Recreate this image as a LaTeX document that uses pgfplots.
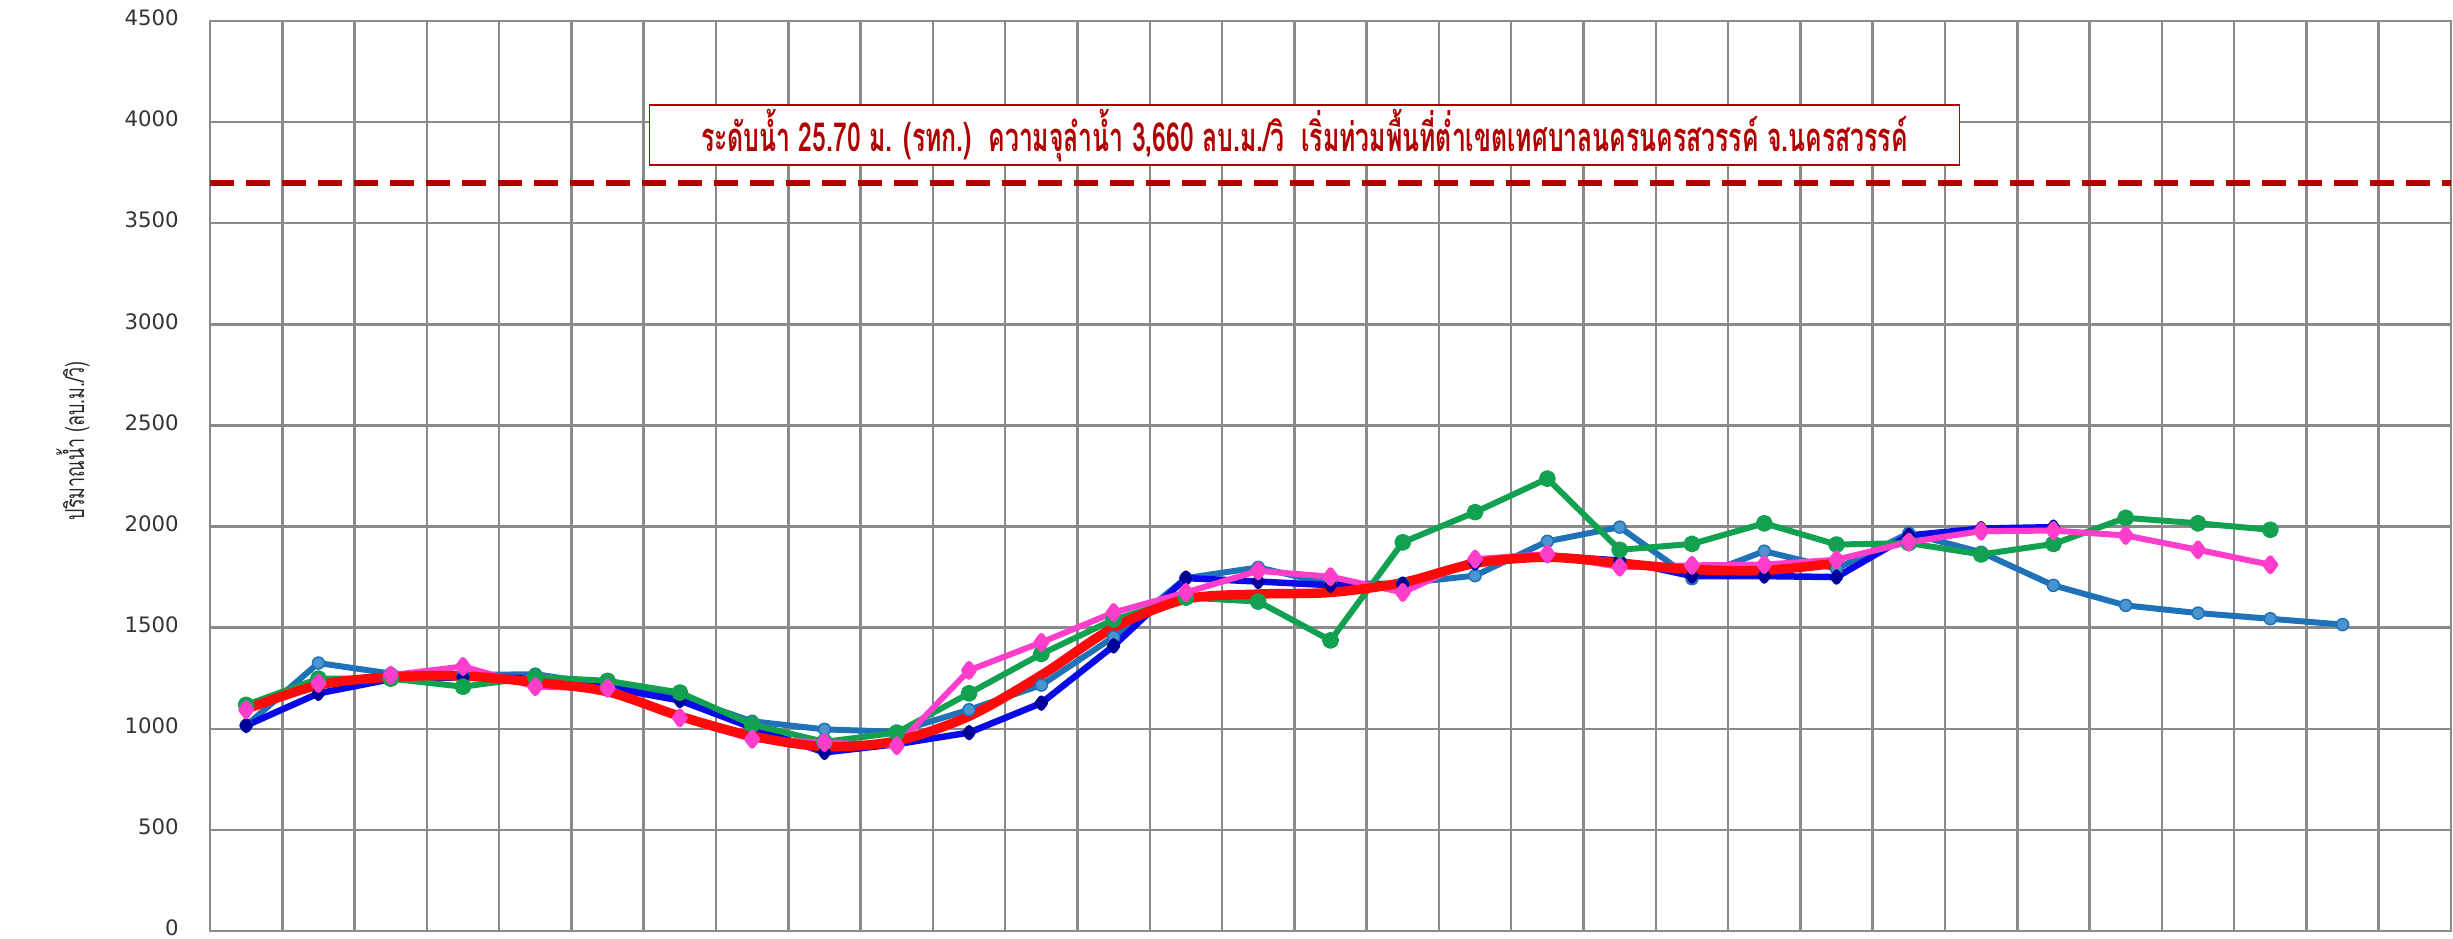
\documentclass[border=0pt]{standalone}
\usepackage{pgfplots}
\pgfplotsset{compat=1.18}
\usepackage{fontspec}
\setmainfont{DejaVu Sans}
\newfontfamily\thaifont[Script=Thai]{Loma}
\definecolor{steel}{HTML}{1F72B8}
\definecolor{steelfill}{HTML}{4A94CF}
\definecolor{dblue}{HTML}{0A0AE6}
\definecolor{mgreen}{HTML}{12A150}
\definecolor{mpink}{HTML}{FF3FCB}
\definecolor{mred}{HTML}{FF0A0A}
\definecolor{gridgray}{HTML}{8A8A8A}
\definecolor{dred}{HTML}{B00000}
\begin{document}
\begin{tikzpicture}
\begin{axis}[
  name=ax,
  scale only axis,
  width=896.4pt, height=364pt,
  xmin=-0.5, xmax=30.5, ymin=0, ymax=4500,
  xtick={-0.5,0.5,...,30.5}, xticklabels={},
  ytick={0,500,...,4500},
  major tick length=0pt,
  grid=major,
  grid style={gridgray, line width=1pt},
  axis line style={gridgray, line width=1pt},
  /pgf/number format/assume math mode=true,
  /pgf/number format/set thousands separator={},
  yticklabel style={font=\fontsize{8.5}{10}\selectfont, text=black!80, xshift=-9pt, yshift=1.2pt},
  clip=false,
]
\addplot[dred, line width=2.6pt, dash pattern=on 9.6pt off 4.8pt] coordinates {(-0.5,3700) (30.5,3700)};
% steel blue
\addplot[steel, line width=2.4pt, line join=round, mark=*, mark size=2.4pt, mark options={fill=steelfill, draw=steel, line width=0.6pt}] coordinates {
(0,1016) (1,1325) (2,1273) (3,1265) (4,1270) (5,1216) (6,1159) (7,1037) (8,997) (9,985)
(10,1094) (11,1216) (12,1454) (13,1745) (14,1798) (15,1715) (16,1719) (17,1757) (18,1927) (19,1997)
(20,1742) (21,1878) (22,1791) (23,1967) (24,1873) (25,1709) (26,1610) (27,1572) (28,1544) (29,1515)};
% dark blue
\addplot[dblue, line width=2.6pt, line join=round, mark=diamond*, mark size=1.8pt, mark options={fill=blue!60!black, draw=blue!60!black}] coordinates {
(0,1016) (1,1175) (2,1245) (3,1255) (4,1250) (5,1205) (6,1140) (7,1005) (8,883) (9,924)
(10,981) (11,1127) (12,1410) (13,1745) (14,1728) (15,1710) (16,1715) (17,1820) (18,1856) (19,1832)
(20,1755) (21,1755) (22,1750) (23,1956) (24,1990) (25,1997)};
% green
\addplot[mgreen, line width=2.4pt, line join=round, mark=*, mark size=2.2pt, mark options={fill=mgreen}] coordinates {
(0,1118) (1,1248) (2,1248) (3,1208) (4,1256) (5,1237) (6,1179) (7,1021) (8,935) (9,981)
(10,1175) (11,1370) (12,1540) (13,1649) (14,1629) (15,1437) (16,1922) (17,2071) (18,2237) (19,1885)
(20,1914) (21,2016) (22,1911) (23,1918) (24,1862) (25,1914) (26,2043) (27,2016) (28,1984)};
% pink
\addplot[mpink, line width=2.4pt, line join=round, mark=diamond*, mark size=2.6pt, mark options={fill=mpink}] coordinates {
(0,1094) (1,1224) (2,1265) (3,1308) (4,1208) (5,1200) (6,1054) (7,948) (8,932) (9,916)
(10,1289) (11,1427) (12,1575) (13,1674) (14,1781) (15,1752) (16,1674) (17,1839) (18,1864) (19,1799)
(20,1808) (21,1812) (22,1836) (23,1923) (24,1977) (25,1980) (26,1956) (27,1885) (28,1811)};
% red smooth
\addplot[mred, line width=3.8pt, smooth, tension=0.5, line join=round, no marks] coordinates {
(0,1097) (1,1216) (2,1256) (3,1261) (4,1230) (5,1183) (6,1062) (7,964) (8,912) (9,940)
(10,1062) (11,1265) (12,1500) (13,1641) (14,1666) (15,1674) (16,1723) (17,1818) (18,1848) (19,1819)
(20,1788) (21,1783) (22,1819)};
\node[draw=dred, line width=0.5pt, fill=white, minimum width=524pt, minimum height=24pt, inner sep=0pt, text=dred]
  at (axis cs:14.64,3936) {\scalebox{0.62}[1]{\thaifont\bfseries\fontsize{16}{18}\selectfont ระดับน้ำ 25.70 ม. (รทก.)\ \ ความจุลำน้ำ 3,660 ลบ.ม./วิ\ \ เริ่มท่วมพื้นที่ต่ำเขตเทศบาลนครนครสวรรค์ จ.นครสวรรค์}};
\end{axis}
\node[rotate=90, text=black!85] at ([xshift=-54.8pt, yshift=14pt]ax.west) {\scalebox{0.68}[1]{\thaifont\fontsize{10.5}{12}\selectfont ปริมาณน้ำ (ลบ.ม./วิ)}};
\pgfresetboundingbox
\path[use as bounding box] ([xshift=-84pt,yshift=-3.2pt]ax.south west) rectangle ([xshift=0.8pt,yshift=8.4pt]ax.north east);
\end{tikzpicture}
\end{document}
